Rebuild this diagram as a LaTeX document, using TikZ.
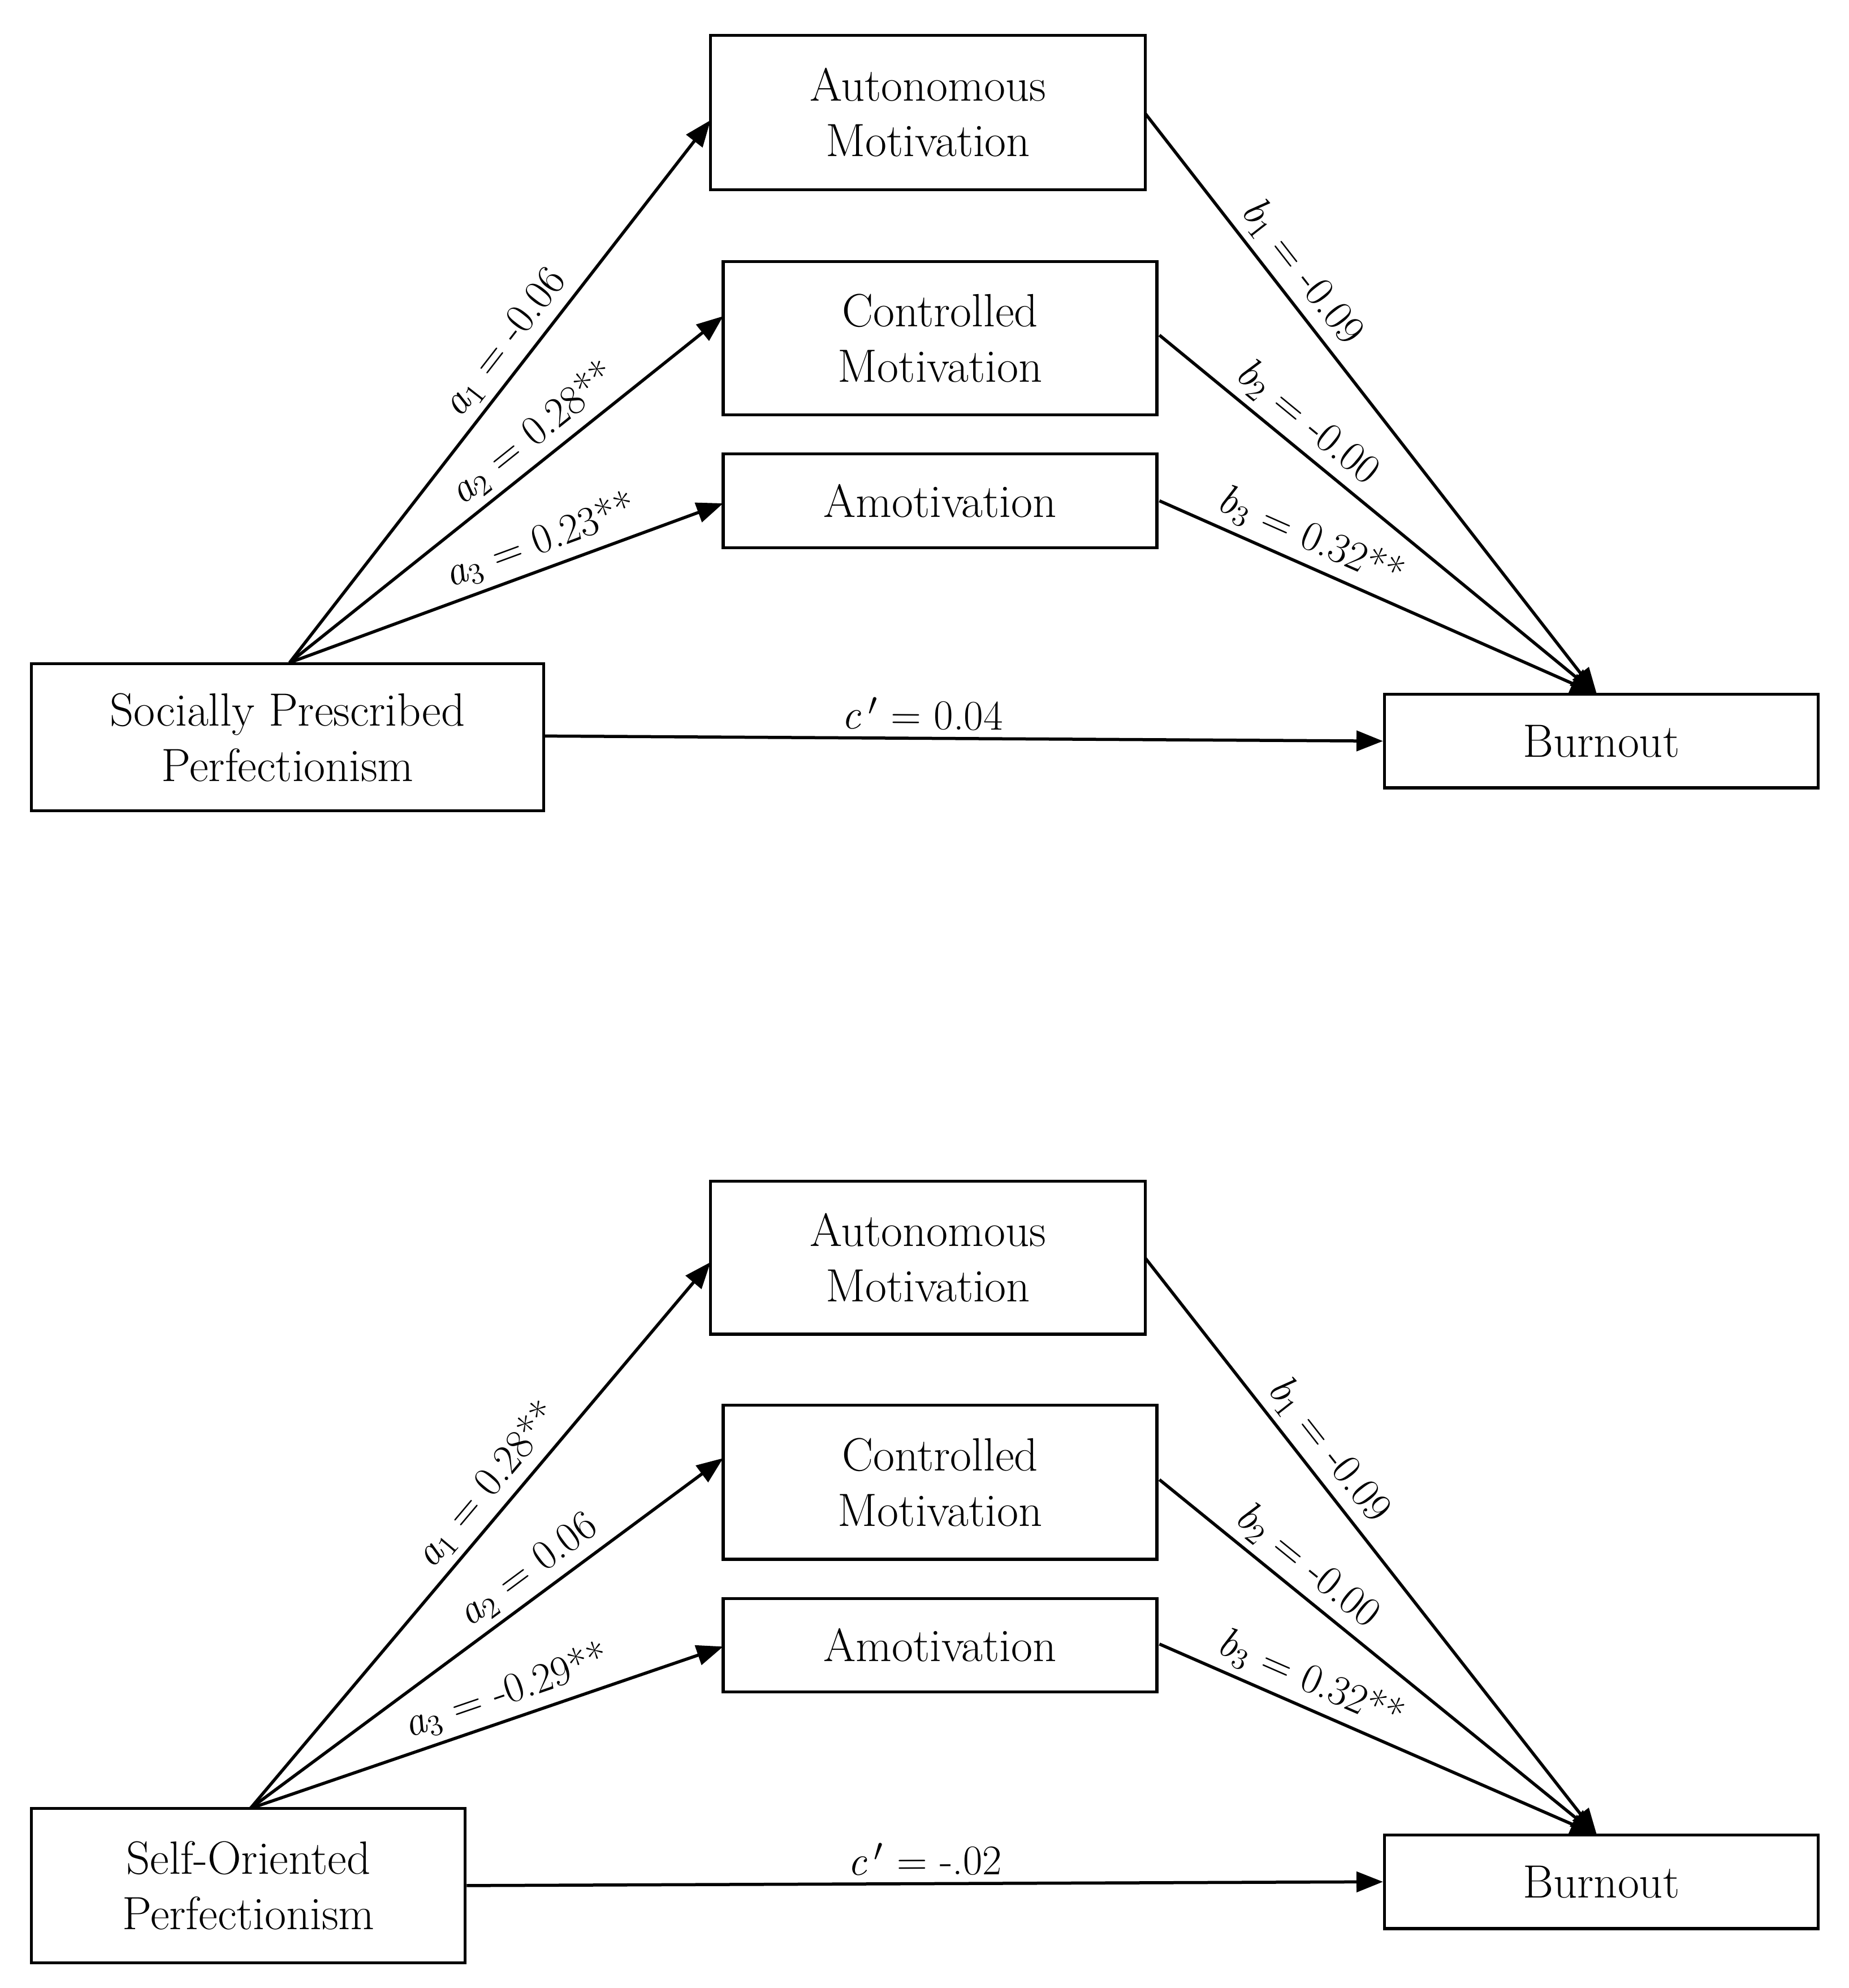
\documentclass[tikz,border=0pt]{standalone}
\usetikzlibrary{arrows.meta}
\begin{document}
\begin{tikzpicture}[x=0.02cm,y=-0.02cm,
  box/.style={draw,line width=1.3pt,align=center,inner sep=0pt,font=\fontsize{21}{25}\selectfont},
  arr/.style={line width=1.4pt,-{Triangle[length=0.42cm,width=0.32cm]}},
  lab/.style={sloped,above,inner sep=3pt,font=\fontsize{19}{22}\selectfont}]
\useasboundingbox (0,0) rectangle (1462,1572);
\newcommand{\bx}[6]{\node[box,minimum width={(#4-#2)*0.02cm},minimum height={(#5-#3)*0.02cm}] (#1) at ({(#2+#4)/2},{(#3+#5)/2}) {#6};}
% top
\bx{am1}{562}{28}{906}{150}{Autonomous\\Motivation}
\bx{cm1}{572}{207}{915}{328}{Controlled\\Motivation}
\bx{amo1}{572}{359}{915}{433}{Amotivation}
\bx{sp}{25}{525}{430}{641}{Socially Prescribed\\Perfectionism}
\bx{bo1}{1095}{549}{1438}{623}{Burnout}
\coordinate (s1) at (229,524);
\coordinate (t1) at (1263,549);
\draw[arr] (s1) -- (562,95) node[lab,pos=0.56]{\textit{a}\textsubscript{1} = -0.06};
\draw[arr] (s1) -- (572,250) node[lab,pos=0.6]{\textit{a}\textsubscript{2} = 0.28**};
\draw[arr] (s1) -- (572,398) node[lab,pos=0.6]{\textit{a}\textsubscript{3} = 0.23**};
\draw[arr] (906,90) -- (t1) node[lab,pos=0.3]{\textit{b}\textsubscript{1} = -0.09};
\draw[arr] (917,265) -- (t1) node[lab,pos=0.3]{\textit{b}\textsubscript{2} = -0.00};
\draw[arr] (917,396) -- (t1) node[lab,pos=0.32]{\textit{b}\textsubscript{3} = 0.32**};
\draw[arr] (sp.east |- 0,582) -- (bo1.west) node[lab,pos=0.45]{\textit{c}\,$'$ = 0.04};
% bottom
\bx{am2}{562}{934}{906}{1055}{Autonomous\\Motivation}
\bx{cm2}{572}{1111}{915}{1233}{Controlled\\Motivation}
\bx{amo2}{572}{1264}{915}{1338}{Amotivation}
\bx{so}{25}{1430}{368}{1552}{Self-Oriented\\Perfectionism}
\bx{bo2}{1095}{1451}{1438}{1525}{Burnout}
\coordinate (s2) at (198,1430);
\coordinate (t2) at (1263,1451);
\draw[arr] (s2) -- (562,998) node[lab,pos=0.56]{\textit{a}\textsubscript{1} = 0.28**};
\draw[arr] (s2) -- (572,1153) node[lab,pos=0.62]{\textit{a}\textsubscript{2} = 0.06};
\draw[arr] (s2) -- (572,1302) node[lab,pos=0.56]{\textit{a}\textsubscript{3} = -0.29**};
\draw[arr] (906,995) -- (t2) node[lab,pos=0.36]{\textit{b}\textsubscript{1} = -0.09};
\draw[arr] (917,1170) -- (t2) node[lab,pos=0.3]{\textit{b}\textsubscript{2} = -0.00};
\draw[arr] (917,1300) -- (t2) node[lab,pos=0.32]{\textit{b}\textsubscript{3} = 0.32**};
\draw[arr] (so.east |- 0,1491) -- (bo2.west |- 0,1488) node[lab,pos=0.5]{\textit{c}\,$'$ = -.02};
\end{tikzpicture}
\end{document}
